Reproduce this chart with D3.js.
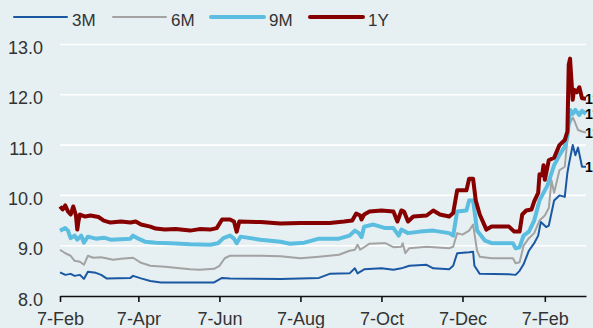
<!DOCTYPE html>
<html>
<head>
<meta charset="utf-8">
<script src="https://cdn.jsdelivr.net/npm/d3@7"></script>
<style>
  body { margin: 0; background: #e6eff1; }
  svg { display: block; font-family: "Liberation Sans Narrow", "Arial Narrow", sans-serif; font-stretch: condensed; }
  .grid line { stroke: #fff; stroke-width: 1.6; }
</style>
</head>
<body>
<svg width="593" height="328"></svg>
<script>
// Series names and colours
const seriesNames = ["3M", "6M", "9M", "1Y"];
const endLabels = ["10.6", "11.3", "11.6", "11.9"];

// Tick labels
const yTicks = [8, 9, 10, 11, 12, 13];
const xTicks = ["2014-02-07", "2014-04-07", "2014-06-07", "2014-08-07", "2014-10-07", "2014-12-07", "2015-02-07"];

// Series values [date, rate]
const s3M = [["2014-02-07",8.47],["2014-02-11",8.42],["2014-02-15",8.44],["2014-02-18",8.4],["2014-02-22",8.42],["2014-02-25",8.34],["2014-02-28",8.48],["2014-03-06",8.46],["2014-03-10",8.42],["2014-03-14",8.35],["2014-04-01",8.36],["2014-04-03",8.4],["2014-04-09",8.35],["2014-04-16",8.3],["2014-04-24",8.27],["2014-06-03",8.27],["2014-06-09",8.36],["2014-06-15",8.35],["2014-07-23",8.34],["2014-08-07",8.35],["2014-08-21",8.36],["2014-08-29",8.44],["2014-09-13",8.45],["2014-09-17",8.55],["2014-09-19",8.45],["2014-09-24",8.53],["2014-10-07",8.55],["2014-10-16",8.52],["2014-10-22",8.55],["2014-10-28",8.6],["2014-11-10",8.62],["2014-11-15",8.55],["2014-11-27",8.53],["2014-11-30",8.6],["2014-12-03",8.85],["2014-12-12",8.87],["2014-12-15",8.88],["2014-12-16",8.6],["2014-12-20",8.44],["2015-01-11",8.43],["2015-01-16",8.42],["2015-01-19",8.5],["2015-01-22",8.63],["2015-01-26",8.9],["2015-01-30",9.05],["2015-02-02",9.2],["2015-02-04",9.47],["2015-02-08",9.37],["2015-02-10",9.4],["2015-02-14",9.9],["2015-02-18",10.0],["2015-02-22",9.97],["2015-02-24",10.45],["2015-02-25",10.6],["2015-02-28",11.0],["2015-03-02",10.8],["2015-03-04",10.95],["2015-03-06",10.7],["2015-03-07",10.57],["2015-03-10",10.57]];

const s6M = [["2014-02-07",8.92],["2014-02-11",8.85],["2014-02-15",8.8],["2014-02-18",8.7],["2014-02-22",8.68],["2014-02-25",8.62],["2014-02-28",8.8],["2014-03-04",8.76],["2014-03-10",8.77],["2014-03-19",8.72],["2014-03-25",8.74],["2014-04-03",8.76],["2014-04-09",8.66],["2014-04-16",8.6],["2014-04-27",8.58],["2014-05-16",8.53],["2014-05-23",8.52],["2014-06-03",8.54],["2014-06-07",8.6],["2014-06-11",8.75],["2014-06-15",8.8],["2014-07-08",8.8],["2014-07-23",8.79],["2014-08-07",8.75],["2014-08-21",8.78],["2014-09-05",8.82],["2014-09-13",8.9],["2014-09-17",8.92],["2014-09-19",9.02],["2014-09-21",8.92],["2014-09-24",8.97],["2014-09-28",9.04],["2014-10-07",9.05],["2014-10-10",9.05],["2014-10-16",8.97],["2014-10-22",8.98],["2014-10-23",9.05],["2014-10-25",8.85],["2014-10-28",8.95],["2014-11-10",8.98],["2014-11-27",8.95],["2014-11-30",8.98],["2014-12-03",9.25],["2014-12-07",9.22],["2014-12-12",9.3],["2014-12-15",9.42],["2014-12-18",8.9],["2014-12-20",8.78],["2014-12-29",8.75],["2015-01-14",8.75],["2015-01-16",8.65],["2015-01-19",8.67],["2015-01-22",9.0],["2015-01-26",9.15],["2015-01-30",9.25],["2015-02-03",9.5],["2015-02-07",9.6],["2015-02-10",9.75],["2015-02-12",10.3],["2015-02-14",10.05],["2015-02-18",10.5],["2015-02-22",10.57],["2015-02-25",11.37],["2015-02-28",11.55],["2015-03-01",11.5],["2015-03-04",11.3],["2015-03-07",11.27],["2015-03-10",11.25]];

const s9M = [["2014-02-07",9.3],["2014-02-11",9.35],["2014-02-13",9.3],["2014-02-15",9.15],["2014-02-18",9.2],["2014-02-20",9.12],["2014-02-23",9.2],["2014-02-25",9.06],["2014-02-28",9.18],["2014-03-06",9.14],["2014-03-12",9.16],["2014-03-17",9.12],["2014-03-25",9.13],["2014-04-01",9.14],["2014-04-03",9.2],["2014-04-07",9.14],["2014-04-12",9.08],["2014-04-20",9.06],["2014-05-01",9.05],["2014-05-16",9.03],["2014-05-31",9.02],["2014-06-06",9.05],["2014-06-10",9.15],["2014-06-15",9.2],["2014-06-18",9.14],["2014-06-20",9.05],["2014-06-23",9.18],["2014-07-08",9.12],["2014-07-23",9.08],["2014-07-30",9.04],["2014-08-10",9.06],["2014-08-21",9.14],["2014-09-05",9.14],["2014-09-13",9.2],["2014-09-17",9.3],["2014-09-20",9.25],["2014-09-22",9.17],["2014-09-24",9.38],["2014-10-01",9.42],["2014-10-10",9.35],["2014-10-16",9.35],["2014-10-20",9.2],["2014-10-22",9.32],["2014-10-27",9.25],["2014-11-05",9.28],["2014-11-15",9.3],["2014-11-27",9.25],["2014-11-30",9.2],["2014-12-03",9.68],["2014-12-10",9.7],["2014-12-12",9.9],["2014-12-15",9.9],["2014-12-18",9.3],["2014-12-24",9.1],["2014-12-29",9.05],["2015-01-14",9.05],["2015-01-16",8.95],["2015-01-19",8.97],["2015-01-22",9.2],["2015-01-26",9.28],["2015-01-30",9.5],["2015-02-03",9.9],["2015-02-07",10.1],["2015-02-09",10.2],["2015-02-14",10.6],["2015-02-18",10.8],["2015-02-22",10.97],["2015-02-24",11.17],["2015-02-26",11.7],["2015-02-28",11.62],["2015-03-02",11.7],["2015-03-05",11.6],["2015-03-07",11.68],["2015-03-10",11.62]];

const s1Y = [["2014-02-07",9.78],["2014-02-09",9.72],["2014-02-11",9.8],["2014-02-13",9.68],["2014-02-15",9.62],["2014-02-17",9.78],["2014-02-19",9.6],["2014-02-20",9.32],["2014-02-21",9.5],["2014-02-22",9.62],["2014-02-26",9.58],["2014-03-02",9.6],["2014-03-08",9.57],["2014-03-12",9.5],["2014-03-17",9.46],["2014-03-25",9.48],["2014-04-01",9.46],["2014-04-05",9.48],["2014-04-09",9.42],["2014-04-16",9.38],["2014-04-20",9.34],["2014-04-27",9.32],["2014-05-05",9.33],["2014-05-16",9.3],["2014-05-23",9.33],["2014-05-31",9.32],["2014-06-05",9.35],["2014-06-09",9.52],["2014-06-15",9.52],["2014-06-18",9.48],["2014-06-20",9.28],["2014-06-22",9.48],["2014-07-08",9.47],["2014-07-23",9.44],["2014-08-07",9.45],["2014-08-29",9.45],["2014-09-09",9.48],["2014-09-15",9.5],["2014-09-18",9.64],["2014-09-21",9.6],["2014-09-22",9.52],["2014-09-24",9.62],["2014-09-28",9.68],["2014-10-07",9.7],["2014-10-16",9.68],["2014-10-19",9.48],["2014-10-22",9.7],["2014-10-24",9.68],["2014-10-27",9.48],["2014-10-31",9.58],["2014-11-10",9.6],["2014-11-15",9.7],["2014-11-20",9.62],["2014-11-27",9.58],["2014-11-30",9.65],["2014-12-03",10.1],["2014-12-10",10.1],["2014-12-12",10.33],["2014-12-15",10.33],["2014-12-17",9.9],["2014-12-20",9.62],["2014-12-25",9.32],["2014-12-29",9.38],["2015-01-11",9.38],["2015-01-15",9.28],["2015-01-19",9.28],["2015-01-21",9.62],["2015-01-24",9.7],["2015-01-28",9.72],["2015-01-30",9.88],["2015-02-02",10.05],["2015-02-03",10.42],["2015-02-05",10.4],["2015-02-06",10.6],["2015-02-07",10.31],["2015-02-10",10.7],["2015-02-14",10.75],["2015-02-18",11.0],["2015-02-22",11.1],["2015-02-24",11.27],["2015-02-25",12.6],["2015-02-26",12.72],["2015-02-27",12.3],["2015-02-28",11.9],["2015-03-01",12.1],["2015-03-03",12.05],["2015-03-05",12.15],["2015-03-07",11.93],["2015-03-10",11.92]];

const seriesData = [s3M, s6M, s9M, s1Y];
const colors = ["#1b58a3", "#a3a3a3", "#5bbde0", "#860000"];
const widths = [2, 2, 4, 4];

const parse = d3.timeParse("%Y-%m-%d");
const svg = d3.select("svg");

// Scales
const x = d3.scaleTime()
  .domain([parse("2014-02-07"), parse("2015-03-10")])
  .range([60, 586]);
const y = d3.scaleLinear().domain([8, 13]).range([296, 44.5]);

// Gridlines
svg.append("g").attr("class", "grid")
  .selectAll("line")
  .data(yTicks.filter(t => t > 8))
  .enter().append("line")
  .attr("x1", 60).attr("x2", 586)
  .attr("y1", d => y(d)).attr("y2", d => y(d));

// Y labels
svg.append("g")
  .selectAll("text")
  .data(yTicks)
  .enter().append("text")
  .attr("x", 43)
  .attr("y", d => y(d) + 9.5)
  .attr("text-anchor", "end")
  .attr("font-size", 18)
  .attr("fill", "#333")
  .text(d => d.toFixed(1));

// X axis
const xAxis = d3.axisBottom(x)
  .tickValues(xTicks.map(parse))
  .tickFormat(d3.timeFormat("%-d-%b"))
  .tickSize(6)
  .tickSizeOuter(0);

const gx = svg.append("g")
  .attr("transform", "translate(0,296)")
  .call(xAxis);
gx.select(".domain").attr("stroke", "#111").attr("stroke-width", 1.6);
gx.selectAll(".tick line").attr("stroke", "#111").attr("stroke-width", 1.6);
gx.selectAll(".tick text")
  .attr("font-size", 18)
  .attr("font-family", "Liberation Sans Narrow, Arial Narrow, sans-serif")
  .attr("fill", "#333")
  .attr("y", 0)
  .attr("dy", 29);

// Lines
const line = d3.line()
  .x(d => x(parse(d[0])))
  .y(d => y(d[1]));

seriesData.forEach((s, i) => {
  svg.append("path")
    .datum(s)
    .attr("fill", "none")
    .attr("stroke", colors[i])
    .attr("stroke-width", widths[i])
    .attr("stroke-linejoin", "round")
    .attr("d", line);
});

// End labels (cut off at right edge, as in the original)
seriesData.forEach((s, i) => {
  const last = s[s.length - 1];
  svg.append("text")
    .attr("x", x(parse(last[0])) - 1)
    .attr("y", y(last[1]) + 5)
    .attr("font-size", 14)
    .attr("font-weight", "bold")
    .attr("fill", "#000")
    .text(endLabels[i]);
});

// Legend
const legendX = [14, 113, 211, 310];
const legend = svg.append("g");
seriesNames.forEach((n, i) => {
  legend.append("line")
    .attr("x1", legendX[i]).attr("x2", legendX[i] + 53)
    .attr("y1", 17).attr("y2", 17)
    .attr("stroke", colors[i])
    .attr("stroke-width", widths[i])
    .attr("stroke-linecap", "round");
  legend.append("text")
    .attr("x", legendX[i] + 58)
    .attr("y", 26)
    .attr("font-size", 17)
    .attr("fill", "#333")
    .text(n);
});
</script>
</body>
</html>
